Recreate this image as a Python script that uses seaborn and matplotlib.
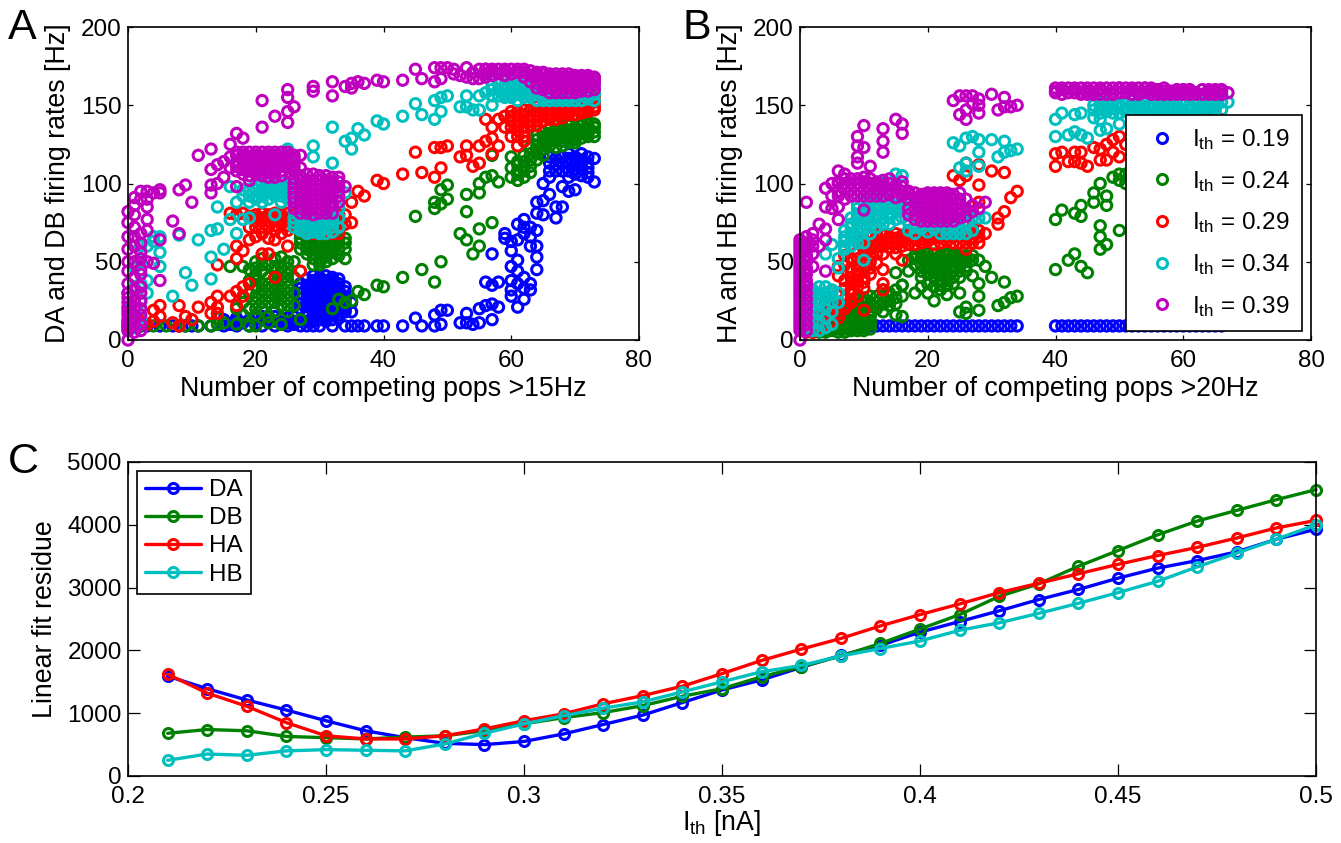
#!/usr/bin/env python3
# -*- coding: utf-8 -*-
import seaborn as sns
import matplotlib
matplotlib.use('Agg')
import matplotlib.pyplot as plt
from matplotlib.lines import Line2D

# Values: (number of pops, firing rate)
A_019 = [(1,9),(2,9),(3,9),(5,9),(7,9),(8,9),(9,9),(10,9),(11,9),(13,9),(15,9),(16,10),(17,9),(18,11),(19,9),(20,10),(20,14),(21,9),(22,12),(23,9),(23,15),(24,11),(25,9),(25,14),(26,10),(26,15),(27,9),(28,9),(29,9),(30,9),(32,9),(34,9),(35,9),(36,9),(37,9),(39,9),(40,9),
 (27,20),(27,27),(27,33),(28,18),(28,22),(28,26),(28,30),(28,35),(29,14),(29,18),(29,22),(29,26),(29,30),(29,34),(29,38),(30,16),(30,20),(30,24),(30,28),(30,32),(30,36),(30,40),(31,14),(31,18),(31,22),(31,26),(31,30),(31,34),(31,38),(31,41),(32,16),(32,20),(32,24),(32,28),(32,32),(32,36),(32,40),(33,14),(33,18),(33,22),(33,26),(33,30),(33,34),(34,22),(34,26),(34,31),(35,18),(35,24),
 (43,9),(45,14),(46,9),(48,16),(48,9),(49,19),(49,10),(50,19),(52,11),(53,17),(53,11),(54,10),(55,11),(55,20),(56,22),(56,37),(57,23),(57,13),(57,55),(57,35),(58,21),(58,37),(59,65),(59,68),(60,57),(60,47),(60,38),(60,32),(60,28),(61,74),(61,51),(61,21),(62,77),(62,68),(62,40),(62,26),(63,72),(63,60),(63,36),(63,32),(64,70),(64,60),(64,53),(64,45),(64,81),(64,88),(62,72),(63,66),(61,64),(60,63),(61,44),(61,36),(62,33),
 (65,100),(65,89),(65,80),(66,117),(66,93),(66,104),(67,78),(67,85),(67,108),(68,85),(68,98),(68,113),(69,119),(69,95),(69,108),(69,113),(70,117),(70,96),(70,106),(70,112),(71,119),(71,105),(71,112),(72,117),(72,104),(72,110),(73,116),(73,101)]
A_019_DENSE = [(15,[13]),(17,[12,14]),(19,[13]),(21,[13,15]),(22,[15]),(23,[12]),(24,[14]),(25,[11]),(26,[12]),(27,[12,23,30,36]),(28,[12,15,39]),(29,[12,16,20,24,28,32,36,41]),(30,[13,18,22,26,30,34,38]),(31,[12,16,20,24,28,32,36]),(32,[13,18,22,26,30,34,38]),(33,[16,20,24,28,32,36,39]),(34,[18,20,28,34]),
 (66,[108,113]),(67,[112,116]),(68,[108,117]),(69,[104,116]),(70,[109,114]),(71,[109,115]),(72,[107,113])]
A_024 = [(0,9),(2,9),(4,9),(6,9),(8,9),(9,9),(11,9),(13,9),(14,10),(15,11),(16,47),(18,47),(19,9),(19,45),(20,9),(17,10),(22,11),(24,10),(27,13),
 (14,14),(17,20),(18,16),(18,24),(19,20),(19,30),(19,38),(20,16),(20,24),(20,34),(20,42),(20,50),(21,20),(21,28),(21,36),(21,44),(21,52),(22,15),(22,24),(22,32),(22,40),(22,48),(23,18),(23,28),(23,36),(23,44),(23,52),(24,22),(24,30),(24,38),(24,46),(24,53),(25,18),(25,26),(25,34),(25,42),(25,50),(26,22),(26,30),(26,40),(26,50),
 (27,62),(27,68),(28,55),(28,60),(28,65),(28,70),(29,48),(29,55),(29,60),(29,66),(29,70),(30,48),(30,52),(30,58),(30,64),(30,70),(31,50),(31,56),(31,62),(31,68),(32,52),(32,60),(32,66),(33,54),(33,62),(33,68),(34,58),(34,65),(32,20),(33,26),(34,24),(35,25),(36,31),(37,29),(39,35),(40,34),(43,40),(46,45),(48,37),(49,50),
 (45,79),(48,84),(48,88),(49,87),(49,96),(50,90),(50,99),(52,68),(53,64),(53,82),(53,93),(54,55),(55,60),(55,71),(55,94),(55,100),(56,104),(57,75),(57,105),(58,101),(57,118),
 (60,117),(60,110),(60,104),(61,102),(61,106),(61,112),(62,108),(62,114),(63,115),(63,119),(63,111),(64,119),(64,128),(64,124),(65,130),(65,122),(65,126),(66,132),(66,127),(67,130),(67,123),(67,134),(68,135),(68,130),(68,124),(69,134),(69,126),(70,136),(70,130),(70,126),(71,137),(71,132),(72,138),(72,130),(73,138),(73,130)]
A_024_DENSE = [(20,[20,28,38,46]),(21,[24,32,48]),(22,[28,36]),(23,[24,32,40,47]),(24,[26,34,42]),(25,[22,30,38,46]),(27,[58,65,72]),(28,[58,62,68]),(29,[52,58,63,68]),(30,[50,55,61,67]),(31,[53,59,65,70]),(32,[56,63,69]),(33,[58,65]),(34,[52,62]),
 (61,[108,114]),(62,[104,111,118]),(63,[107,123]),(64,[115,121,131]),(65,[118,125,133]),(66,[124,129,135]),(67,[127,132,137]),(68,[127,132,137]),(69,[129,131,137]),(70,[128,133]),(71,[129,134,140]),(72,[132,135,140]),(73,[133,136])]
A_029 = [(0,9),(1,10),(2,12),(3,10),(4,19),(4,12),(5,22),(5,15),(7,11),(8,22),(8,9),(9,15),(10,13),(11,21),(13,24),(13,17),(14,28),(14,21),(14,17),(16,28),(17,31),(17,22),(18,34),(18,28),(19,36),(14,48),(17,52),(17,60),(18,57),(19,64),(16,81),(17,80),(18,81),
 (19,72),(19,79),(20,66),(20,72),(20,80),(21,68),(21,76),(21,81),(21,55),(22,55),(22,65),(22,72),(22,80),(23,64),(23,70),(23,76),(23,81),(23,40),(24,68),(24,74),(24,80),(25,60),(25,70),(25,76),(25,81),(26,72),(26,80),(27,44),(27,70),(27,76),(27,81),(28,70),(28,76),(29,70),(29,76),(30,70),(31,70),(32,70),(33,72),(34,74),(34,80),(35,75),(35,88),(36,95),(37,92),(39,102),(40,100),
 (43,106),(46,107),(48,104),(49,110),(45,120),(48,123),(49,123),(50,124),(52,117),(53,124),(53,118),(54,111),(55,113),(55,124),(56,127),(57,129),(57,119),(58,124),(56,141),(57,136),(58,141),(59,143),(59,136),(60,136),(60,130),(60,143),(61,124),(61,130),(61,140),(62,130),(62,136),(62,144),(63,140),(64,146),(64,137),(65,146),(65,140),(66,147),(66,141),(67,147),(67,141),(68,148),(68,142),(69,149),(69,144),(70,149),(70,144),(71,150),(71,145),(72,150),(72,146),(73,152),(73,147)]
A_029_DENSE = [(20,[76,78]),(21,[72,78]),(22,[76]),(23,[73,79]),(24,[77]),(25,[73,78]),(26,[75,78]),(27,[73,78]),(28,[68,73,78]),(29,[68,73,79]),(30,[68,73]),(31,[68,73]),(32,[68,73,78]),(33,[68,75,80]),
 (60,[140,146]),(61,[134,137,143,146]),(62,[127,133,140,147]),(63,[137,143,147]),(64,[140,143,149]),(65,[143,149]),(66,[144,150]),(67,[144,150]),(68,[145,151]),(69,[146,152]),(70,[147,152]),(71,[147,153]),(72,[148,153]),(73,[149,155])]
A_034 = [(0,6),(0,12),(0,20),(0,30),(1,8),(1,16),(1,26),(1,34),(1,46),(2,14),(2,24),(2,36),(2,50),(2,60),(3,30),(3,38),(3,60),(4,63),(5,66),(5,56),(5,47),(4,66),(7,28),(9,43),(10,35),(8,67),(11,64),(13,70),(14,71),(13,53),(13,39),(15,58),(14,85),(16,77),(17,68),(18,77),(19,78),(17,88),(16,98),(18,92),(23,80),
 (19,88),(20,90),(20,96),(21,88),(21,96),(22,90),(22,98),(23,92),(23,100),(24,92),(24,98),(25,94),(25,100),(26,94),(26,100),(27,96),(25,122),
 (26,72),(26,78),(27,70),(27,75),(27,80),(28,70),(28,75),(29,70),(29,75),(30,70),(30,76),(31,72),(31,77),(32,72),(32,77),(33,84),(34,94),
 (29,124),(29,117),(32,136),(32,113),(34,127),(35,129),(35,122),(36,135),(37,131),(39,140),(40,138),(43,143),(46,144),(48,141),(49,146),(45,151),(48,153),(49,155),(50,156),(52,149),(53,156),(53,149),(54,147),(55,147),(55,156),(56,158),(57,150),(57,160),(58,156),
 (59,160),(60,158),(60,162),(61,157),(61,162),(62,158),(63,161),(64,157),(64,161),(65,155),(65,159),(66,156),(66,160),(67,155),(67,159),(68,155),(68,159),(69,155),(69,159),(70,156),(70,160),(71,157),(71,161),(72,158),(73,158),(73,160)]
A_034_DENSE = [(18,[96]),(19,[92,96]),(20,[92,100]),(21,[92,100]),(22,[94,101]),(23,[95]),(24,[88,95,101]),(25,[90,97]),(26,[91,97]),(27,[92,98]),(26,[75,83]),(27,[72,78,84]),(28,[68,73,78,84]),(29,[69,73,78,84]),(30,[68,73,78,84]),(31,[68,74,79,84]),(32,[69,75,80,85]),(33,[72,78,84]),
 (57,[156,163]),(58,[160,164]),(59,[155,157,163]),(60,[155,165]),(61,[153,159,165]),(62,[155,161,165]),(63,[155,158,164]),(64,[153,159,164]),(65,[153,157,162]),(66,[153,158]),(67,[153,157]),(68,[153,157]),(69,[153,157]),(70,[153,158]),(71,[153,157]),(72,[154,157]),(73,[153,157])]
A_039 = [(0,0),(0,6),(0,11),(0,16),(0,21),(0,27),(0,82),(0,75),(1,14),(1,20),(1,91),(1,60),(1,40),(1,32),(2,95),(2,68),(2,56),(2,45),(2,34),(2,25),(3,95),(3,85),(3,77),(4,94),(4,49),(5,96),(5,94),(5,64),(5,38),(1,66),(1,72),(7,76),(8,96),(9,99),(8,68),(10,88),(11,118),(13,122),(13,109),(13,99),(13,94),(14,112),(14,100),(15,114),(15,104),(16,125),(17,132),(18,129),(17,98),(19,102),(21,136),(21,153),(23,143),(25,160),(25,155),(25,146),(25,139),(26,149),(29,162),(29,159),(32,165),(32,156),(34,162),(35,161),(35,164),(36,165),(37,164),(39,166),(40,165),
 (16,110),(17,108),(17,114),(17,118),(18,106),(18,112),(18,118),(19,108),(19,114),(19,120),(20,106),(20,112),(20,118),(21,108),(21,114),(21,120),(22,104),(22,110),(22,116),(22,120),(23,104),(23,110),(23,116),(23,120),(24,108),(24,114),(24,120),(25,110),(25,116),(25,120),(26,108),(26,114),(26,118),(27,118),(27,110),
 (26,88),(26,94),(26,100),(27,84),(27,90),(27,96),(27,102),(28,84),(28,90),(28,96),(28,102),(28,106),(29,84),(29,90),(29,96),(29,102),(29,106),(30,84),(30,90),(30,96),(30,102),(30,105),(31,84),(31,90),(31,96),(31,102),(31,105),(32,86),(32,92),(32,98),(32,104),(33,92),(33,98),(33,104),(34,98),
 (43,166),(46,167),(48,165),(49,167),(45,173),(48,174),(49,174),(50,174),(52,169),(53,174),(53,168),(54,167),(55,167),(55,173),(56,173),(56,168),(57,172),(58,173),(59,172),(60,173),(61,173),(62,173),(63,172),(64,161),(64,167),(64,171),(65,160),(65,165),(65,170),(66,161),(66,167),(66,170),(67,160),(67,165),(67,170),(68,161),(68,166),(68,170),(69,161),(69,165),(69,170),(70,160),(70,165),(70,169),(71,162),(71,167),(72,162),(72,167),(73,163),(73,167)]
A_039_DENSE = [(0,[8,13,18,24,30,36,44,50,58,66]),(1,[5,10,15,25,50,80,86]),(2,[6,10,16,20,30,42,52,62,90]),(3,[90,70,50]),
 (16,[117]),(17,[111,120]),(18,[109,115,120]),(19,[105,111,117]),(20,[109,115,120]),(21,[105,111,117]),(22,[107,113,118]),(23,[107,113,118]),(24,[105,111,117]),(25,[113,118]),(26,[111,116]),
 (26,[84,91,97,103]),(27,[81,87,93,99,105]),(28,[81,87,93,99]),(29,[80,87,93,99]),(30,[81,87,93,99]),(31,[81,87,93,99]),(32,[81,88,95,101]),(33,[88,95,101]),
 (51,[170,173]),(54,[171]),(56,[170,173]),(57,[169,173]),(58,[170]),(59,[169,173]),(60,[170]),(61,[171]),(62,[168,171]),(63,[165,169]),(64,[164,170]),(65,[162,167,171]),(66,[158,164,169]),(67,[158,163,168]),(68,[158,163,168]),(69,[158,163,168]),(70,[158,162,167]),(71,[159,164,169]),(72,[159,164,169]),(73,[160,165,168])]

B_019 = [(1,9),(2,9),(3,9),(4,9),(5,9),(6,9),(7,9),(8,9),(9,9),(10,9),(11,9),(12,9),(13,9),(14,9),(15,9),(16,9),(17,9),(18,9),(19,9),(20,9),(21,9),(22,9),(23,9),(24,9),(25,9),(26,9),(27,9),(28,9),(29,9),(30,9),(31,9),(32,9),(33,9),(34,9),
 (40,9),(41,9),(42,9),(43,9),(44,9),(45,9),(46,9),(47,9),(48,9),(49,9),(50,9),(51,9),(52,9),(53,9),(54,9),(55,9),(56,9),(57,9),(58,9),(59,9),(60,9),(61,9),(62,9),(63,9),(64,9),(65,9),(66,9)]
B_024 = [(1,6),(2,6),(2,9),(3,7),(3,11),(4,6),(4,10),(5,8),(5,12),(6,7),(6,11),(6,15),(7,7),(7,11),(7,15),(7,18),(8,8),(8,12),(8,16),(8,20),(9,8),(9,12),(9,16),(9,21),(10,8),(10,13),(10,18),(10,24),(11,12),(11,23),(12,24),(13,23),(13,18),(14,25),(15,27),(16,15),(15,16),(16,35),(17,44),(15,43),(18,30),(19,34),(17,51),(18,52),(19,52),
 (19,44),(19,40),(20,30),(20,36),(20,42),(20,48),(20,53),(21,25),(21,34),(21,40),(21,46),(21,52),(22,32),(22,38),(22,44),(22,50),(22,54),(23,29),(23,38),(23,44),(23,50),(23,54),(24,36),(24,44),(24,50),(24,54),(25,30),(25,40),(25,48),(25,54),(26,44),(26,50),(26,54),(28,51),(29,47),(30,40),(32,37),(27,41),(28,36),(28,28),(28,19),(25,18),(26,17),(26,21),(31,22),(32,24),(33,27),(34,28),
 (40,45),(40,77),(41,83),(42,51),(43,55),(43,81),(44,47),(44,79),(44,86),(45,43),(46,94),(46,88),(47,100),(47,73),(47,66),(47,58),(48,61),(48,92),(48,86),(49,104),(50,106),(50,70),(50,102),(51,100),(51,106)]
B_024_DENSE = [(2,[5]),(3,[5,9]),(4,[5,8,12]),(5,[6,10,14]),(6,[5,9,13,17]),(7,[5,9,13,17,20]),(8,[6,10,14,18,22]),(9,[6,10,14,18,23,26]),(10,[6,10,15,21,27]),(11,[7,10,15,19,28]),(12,[28,20]),(13,[28,32]),(14,[30,22]),(15,[32,23]),(16,[28,35]),
 (18,[48,54]),(19,[48,54]),(20,[46,51,55]),(21,[43,49,55]),(22,[35,41,47,52]),(23,[35,41,47,55]),(24,[40,47,52,55]),(25,[44,52]),(26,[47,52]),(27,[51,54])]
B_029 = [(1,6),(2,8),(3,12),(4,21),(4,14),(5,24),(5,16),(6,14),(6,20),(6,41),(6,47),(7,22),(7,58),(7,54),(7,48),(8,26),(8,32),(8,40),(8,46),(8,52),(9,34),(9,42),(9,48),(9,56),(9,62),(10,33),(10,40),(10,19),(10,50),(10,58),(10,64),(11,42),(11,54),(11,62),(12,49),(12,60),(12,66),(13,36),(13,32),(13,45),(13,60),(14,62),(14,66),(15,55),(15,68),(15,62),(16,51),(16,63),(16,67),(17,66),(18,64),(18,68),(19,64),(20,66),(21,61),(22,66),(23,63),(24,66),(25,62),(26,58),(26,66),(27,68),(28,66),(29,68),(31,74),(31,78),(32,82),(33,91),(34,95),(28,88),(28,99),(26,105),(25,102),(24,105),(26,113),(28,112),(30,108),(32,107),
 (40,119),(40,111),(41,120),(42,114),(43,120),(43,114),(44,120),(44,113),(45,111),(46,123),(47,122),(47,115),(48,125),(48,115),(49,128),(50,130),(50,117),(49,120),(51,125),(58,141),(59,142),(60,142),(61,143),(62,142),(63,143),(64,144),(65,143),(66,141)]
B_029_DENSE = [(1,[5]),(2,[5,10]),(3,[8,15]),(4,[10,17,24]),(5,[12,20,27]),(6,[17,24,30]),(7,[20,26,33,38]),(8,[24,30,36,44]),(9,[28,38,45,52]),(10,[37,45,55,61]),(11,[46,50,58,66]),(12,[55,63,68]),(13,[55,63,67]),(14,[59,65]),(15,[59,65]),(16,[60,65]),(17,[61,68,70]),(18,[61,67]),(19,[62,69]),(20,[63,69]),(21,[65,69]),(22,[62,69]),(23,[66,69]),(24,[62,69]),(25,[66,69]),(26,[62,69]),(27,[62,65,72]),(28,[62,70])]
B_034 = [(1,6),(1,12),(1,20),(1,28),(1,34),(2,22),(2,32),(3,26),(3,34),(4,34),(4,26),(5,32),(4,55),(5,61),(6,46),(6,52),(7,60),(7,66),(8,68),(8,74),(9,70),(9,78),(9,84),(10,51),(10,70),(10,78),(10,83),(11,68),(11,76),(11,84),(11,89),(12,78),(12,84),(12,90),(13,78),(13,84),(13,100),(14,78),(14,84),(15,106),(16,105),(15,83),(16,83),(17,75),(18,72),(19,71),(20,74),(21,71),(22,74),(23,71),(24,74),(25,71),(26,74),(28,78),(29,78),(24,126),(25,124),(26,129),(27,130),(28,128),(28,120),(30,128),(32,127),(31,117),(32,120),(33,121),(34,122),(25,110),(26,113),(26,108),(28,111),
 (40,130),(40,141),(41,145),(42,131),(43,144),(43,133),(44,145),(44,131),(45,129),(46,147),(47,134),(48,135),(50,138),(47,148),(48,149),(49,148),(50,149),(51,148),(52,150),(53,149),(54,149),(55,148),(56,148),(57,149),(58,148),(59,148),(60,147),(61,147),(62,148),(63,149),(64,149),(65,150),(67,152),(46,142),(47,141),(52,145),(54,146),(56,145)]
B_034_DENSE = [(1,[8,15,24,31]),(2,[6,12,18,27]),(3,[6,12,18,23,30]),(4,[8,14,20,30]),(5,[10,18,24,30]),(6,[24,30]),(7,[58,63,70]),(8,[60,66,72,78]),(9,[62,66,74,80,87]),(10,[62,74,88,92]),(11,[72,80,90,93]),(12,[72,80,87,94]),(13,[74,88,92]),(14,[74,81,88,92]),(15,[77,86,92]),(16,[78,87]),(17,[70,80,87]),(18,[68,78,84]),(19,[75,86]),(20,[69,78,84]),(21,[75,80]),(22,[68,78]),(23,[68,76]),(24,[68,78]),(25,[68,76]),(26,[68,76,80]),(27,[70,78]),
 (46,[150]),(47,[145,150,152]),(48,[146,152]),(49,[145,151]),(50,[145,151]),(51,[146,152]),(52,[147,153]),(53,[146,152]),(54,[145,152]),(55,[145,151]),(56,[146,152]),(57,[146,152]),(58,[145,151]),(59,[145,151]),(60,[145,151]),(61,[144,150]),(62,[145,151]),(63,[146,151]),(64,[146,152]),(65,[147,152]),(66,[147,152])]
B_039 = [(0,0),(0,6),(0,10),(0,14),(0,18),(0,22),(0,26),(0,30),(0,34),(0,38),(0,42),(0,46),(0,50),(0,54),(0,58),(0,62),(1,88),(1,62),(1,52),(1,44),(1,36),(2,68),(2,55),(2,47),(3,74),(3,60),(4,97),(4,85),(4,71),(4,64),(4,44),(5,100),(5,92),(5,84),(6,108),(7,106),(6,85),(6,77),(6,92),(6,100),(7,96),(8,92),(8,100),(9,130),(9,124),(9,117),(9,113),(9,96),(10,137),(10,123),(11,111),(10,104),(10,83),(10,96),(11,92),(11,100),(12,96),(12,101),(13,135),(13,127),(13,120),(13,97),(14,93),(14,100),(15,141),(16,138),(16,132),(15,95),(16,92),(16,98),(17,95),
 (17,80),(18,80),(18,88),(18,94),(19,76),(19,84),(19,92),(20,76),(20,82),(20,88),(20,94),(21,76),(21,82),(21,88),(21,94),(22,76),(22,82),(22,88),(22,94),(23,76),(23,82),(23,88),(23,94),(24,76),(24,84),(24,90),(25,94),(25,78),(25,84),(26,79),(28,84),(29,88),
 (24,153),(25,156),(26,156),(27,156),(28,154),(30,157),(32,155),(25,144),(26,141),(26,147),(28,145),(28,150),(27,151),(31,147),(32,149),(33,149),(34,150),
 (40,158),(40,161),(41,160),(42,158),(43,160),(44,158),(44,161),(45,159),(46,158),(46,161),(47,160),(48,161),(49,158),(50,161),(51,158),(51,161),(52,160),(53,158),(54,161),(55,158),(55,160),(56,157),(57,159),(58,157),(58,159),(59,158),(60,157),(60,160),(61,157),(61,159),(62,158),(63,160),(64,157),(65,159),(66,157),(67,158)]
B_039_DENSE = [(0,[8,12,16,20,24,28,32,36,40,44,48,52,56,60,64]),(1,[6,10,14,18,22,26,30,34,38,42,46,50,54,58,66]),(2,[60,64]),(6,[95,101]),(7,[90,100,103]),(8,[96,103]),(9,[92,100,103]),(10,[92,101]),(11,[96,103]),(12,[92,99]),(13,[92,102]),(14,[96,103]),(15,[91,99]),(16,[95,101]),
 (17,[84,90,94]),(18,[77,84,91]),(19,[80,88,93]),(20,[79,85,91,93]),(21,[79,85,91,93]),(22,[79,85,91,93]),(23,[79,85,91,93]),(24,[79,87,93]),(25,[81,87,90]),(26,[84,90]),(27,[82,86]),
 (40,[159]),(41,[157,161]),(42,[161]),(43,[158,161]),(44,[157]),(45,[157,161]),(46,[157]),(47,[157,161]),(48,[157]),(49,[157,161]),(50,[158,161]),(52,[157,161]),(53,[157,161]),(54,[158,161]),(55,[157,161]),(56,[159,160]),(57,[157,161]),(58,[158]),(59,[157,160]),(60,[158]),(61,[158,160]),(62,[157]),(63,[157]),(64,[159,160]),(65,[157,160]),(66,[159,160])]

ITH_LABELS = ['0.19', '0.24', '0.29', '0.34', '0.39']
ITH_COLORS = ['#0000ff', '#008000', '#ff0000', '#00bfbf', '#bf00bf']

# Linear fit residue
ith = [0.21, 0.22, 0.23, 0.24, 0.25, 0.26, 0.27, 0.28, 0.29, 0.30, 0.31, 0.32, 0.33, 0.34, 0.35,
       0.36, 0.37, 0.38, 0.39, 0.40, 0.41, 0.42, 0.43, 0.44, 0.45, 0.46, 0.47, 0.48, 0.49, 0.50]
res_da = [1590, 1390, 1210, 1050, 880, 720, 610, 520, 500, 550, 670, 820, 970, 1170, 1370,
          1530, 1730, 1920, 2080, 2290, 2460, 2630, 2810, 2970, 3150, 3310, 3430, 3570, 3770, 3930]
res_db = [680, 740, 720, 630, 610, 590, 620, 640, 720, 830, 930, 1010, 1120, 1270, 1390,
          1580, 1740, 1910, 2110, 2340, 2570, 2860, 3060, 3340, 3590, 3840, 4060, 4230, 4400, 4560]
res_ha = [1620, 1320, 1110, 850, 640, 590, 590, 640, 750, 880, 990, 1150, 1280, 1430, 1630,
          1840, 2020, 2190, 2390, 2570, 2740, 2920, 3070, 3220, 3370, 3510, 3640, 3790, 3950, 4070]
res_hb = [250, 350, 330, 400, 420, 410, 400, 510, 680, 830, 960, 1080, 1180, 1340, 1500,
          1660, 1760, 1910, 2030, 2150, 2320, 2440, 2590, 2750, 2920, 3100, 3330, 3550, 3770, 4000]
LINE_NAMES = ['DA', 'DB', 'HA', 'HB']
LINE_COLORS = ['#0000ff', '#008000', '#ff0000', '#00bfbf']

sns.set_style('ticks', {'xtick.direction': 'in', 'ytick.direction': 'in',
                        'axes.edgecolor': 'black', 'xtick.color': 'black', 'ytick.color': 'black',
                        'text.color': 'black', 'axes.labelcolor': 'black'})
plt.rcParams['font.family'] = ['Liberation Sans', 'DejaVu Sans']
plt.rcParams['mathtext.default'] = 'regular'

W, H = 1341, 843
FS_TICK = 17.5
FS_LABEL = 19.3
fig = plt.figure(figsize=(W / 100, H / 100), dpi=100)


def box(l, t, r, b):
    return fig.add_axes([l / W, 1 - b / H, (r - l) / W, (b - t) / H])


def style(ax, ticklen):
    ax.tick_params(labelsize=FS_TICK, length=ticklen, width=0.9, top=True, right=True)
    ax.tick_params(axis='x', pad=7)
    ax.tick_params(axis='y', pad=4.5)
    for s in ax.spines.values():
        s.set_linewidth(1.2)
        s.set_visible(True)


def rings(ax, pts, dense, color):
    xs = [p[0] for p in pts]
    ys = [p[1] for p in pts]
    for x, vals in dense:
        xs += [x] * len(vals)
        ys += vals
    sns.scatterplot(x=xs, y=ys, ax=ax, color=color, s=55, marker='o', clip_on=False)
    c = ax.collections[-1]
    c.set_facecolor('none')
    c.set_edgecolor(color)
    c.set_linewidth(2.2)


ax_a = box(128, 27, 639, 340)
ax_b = box(800, 27, 1311, 340)
ax_c = box(128, 462, 1316, 776)

for pts, dense, col in zip([A_019, A_024, A_029, A_034, A_039],
                           [A_019_DENSE, A_024_DENSE, A_029_DENSE, A_034_DENSE, A_039_DENSE], ITH_COLORS):
    rings(ax_a, pts, dense, col)
for pts, dense, col in zip([B_019, B_024, B_029, B_034, B_039],
                           [[], B_024_DENSE, B_029_DENSE, B_034_DENSE, B_039_DENSE], ITH_COLORS):
    rings(ax_b, pts, dense, col)

for ax, xl, yl in [(ax_a, 'Number of competing pops >15Hz', 'DA and DB firing rates [Hz]'),
                   (ax_b, 'Number of competing pops >20Hz', 'HA and HB firing rates [Hz]')]:
    ax.set_xlim(0, 80)
    ax.set_ylim(0, 200)
    ax.set_xticks([0, 20, 40, 60, 80])
    ax.set_yticks([0, 50, 100, 150, 200])
    style(ax, 3.6)
    ax.set_xlabel(xl, fontsize=FS_LABEL, labelpad=3)
    ax.set_ylabel(yl, fontsize=FS_LABEL, labelpad=7)

handles = [Line2D([], [], ls='', marker='o', ms=7.2, mew=2.2, mfc='none', mec=c) for c in ITH_COLORS]
leg = ax_b.legend(handles, [r'I$_{th}$ = ' + s for s in ITH_LABELS], loc='lower right',
                  bbox_to_anchor=(0.982, 0.029), borderaxespad=0, fontsize=FS_TICK, frameon=True,
                  fancybox=False, framealpha=1, edgecolor='black', labelspacing=0.69,
                  handletextpad=0.29, borderpad=0.5, handlelength=1.9)
leg.get_frame().set_linewidth(1.2)
leg.set_zorder(10)

for vals, col, name in zip([res_da, res_db, res_ha, res_hb], LINE_COLORS, LINE_NAMES):
    sns.lineplot(x=ith, y=vals, ax=ax_c, color=col, linewidth=2.4, marker='o', markersize=7.2,
                 markerfacecolor='none', markeredgecolor=col, markeredgewidth=2.2,
                 label=name, clip_on=False, errorbar=None)
ax_c.set_xlim(0.2, 0.5)
ax_c.set_ylim(0, 5000)
ax_c.set_xticks([0.2, 0.25, 0.3, 0.35, 0.4, 0.45, 0.5])
ax_c.set_xticklabels(['0.2', '0.25', '0.3', '0.35', '0.4', '0.45', '0.5'])
ax_c.set_yticks([0, 1000, 2000, 3000, 4000, 5000])
style(ax_c, 8.4)
ax_c.set_xlabel(r'I$_{th}$ [nA]', fontsize=FS_LABEL, labelpad=0)
ax_c.set_ylabel('Linear fit residue', fontsize=FS_LABEL, labelpad=7)
leg_c = ax_c.legend(loc='upper left', bbox_to_anchor=(0.0075, 0.972), borderaxespad=0, fontsize=FS_TICK,
                    frameon=True, fancybox=False, framealpha=1, edgecolor='black',
                    labelspacing=0.25, handlelength=2.3, handletextpad=0.3, borderpad=0.35)
leg_c.get_frame().set_linewidth(1.2)

for letter, x, y in [('A', 8, 28), ('B', 682, 28), ('C', 8, 462)]:
    fig.text(x / W, 1 - y / H, letter, fontsize=31, ha='left', va='center')

fig.savefig('out.png', dpi=100)
